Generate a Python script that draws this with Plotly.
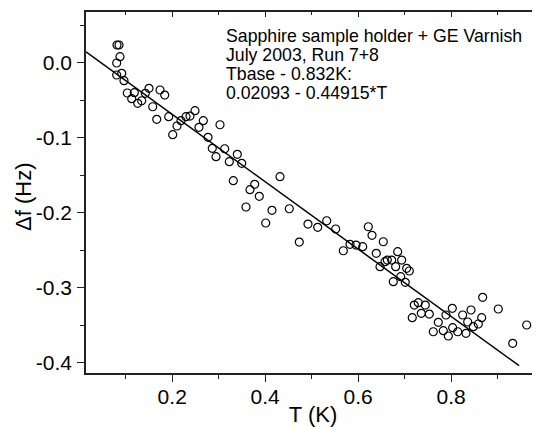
import plotly.graph_objects as go

# ---- data ----
T_K = [0.0813, 0.0856, 0.0877, 0.0806, 0.0806, 0.0914, 0.0963, 0.1034, 0.1185, 0.1129,
       0.1258, 0.1344, 0.1422, 0.1501, 0.1738, 0.1839, 0.1581, 0.1667, 0.1925, 0.2011,
       0.2103, 0.2189, 0.2297, 0.2383, 0.2490, 0.2576, 0.2669, 0.2770, 0.3028, 0.2862,
       0.2942, 0.3129, 0.3400, 0.3228, 0.3495, 0.3314, 0.3774, 0.3673, 0.3873, 0.4318,
       0.3587, 0.4146, 0.4518, 0.4011, 0.4733, 0.4920, 0.5129, 0.5323, 0.5516, 0.5680,
       0.5824, 0.5953, 0.6097, 0.6217, 0.6297, 0.6540, 0.6389, 0.6469, 0.6576, 0.6626,
       0.6720, 0.6849, 0.6935, 0.6806, 0.7043, 0.7099, 0.6914, 0.6755, 0.7013, 0.7206,
       0.7292, 0.7443, 0.7163, 0.7357, 0.7529, 0.7723, 0.7615, 0.7888, 0.8024, 0.7830,
       0.7938, 0.8032, 0.8140, 0.8247, 0.8318, 0.8355, 0.8426, 0.8475, 0.8583, 0.8656,
       0.8677, 0.9013, 0.9323, 0.9624, 0.9873]
delta_f_Hz = [0.0236, 0.0236, 0.0080, -0.0004, -0.0164, -0.0141, -0.0240, -0.0404, -0.0400, -0.0480,
              -0.0541, -0.0507, -0.0408, -0.0341, -0.0364, -0.0431, -0.0587, -0.0755, -0.0720, -0.0960,
              -0.0844, -0.0773, -0.0720, -0.0711, -0.0640, -0.0861, -0.0773, -0.0995, -0.0827, -0.1141,
              -0.1253, -0.1147, -0.1221, -0.1320, -0.1341, -0.1573, -0.1621, -0.1693, -0.1781, -0.1520,
              -0.1924, -0.1968, -0.1947, -0.2137, -0.2391, -0.2151, -0.2195, -0.2107, -0.2217, -0.2507,
              -0.2421, -0.2431, -0.2453, -0.2187, -0.2301, -0.2387, -0.2541, -0.2720, -0.2653, -0.2631,
              -0.2631, -0.2520, -0.2631, -0.2720, -0.2741, -0.2777, -0.2853, -0.2920, -0.2928, -0.3231,
              -0.3200, -0.3231, -0.3400, -0.3341, -0.3351, -0.3461, -0.3587, -0.3364, -0.3275, -0.3573,
              -0.3644, -0.3533, -0.3587, -0.3364, -0.3608, -0.3457, -0.3297, -0.3520, -0.3484, -0.3400,
              -0.3128, -0.3284, -0.3741, -0.3497, -0.3333]

# linear fit line (end points as drawn)
fit_T = [0.0146, 0.946]
fit_df = [0.0144, -0.4040]

x_tickvals = [0.2, 0.4, 0.6, 0.8]
x_ticktext = ["0.2", "0.4", "0.6", "0.8"]
y_tickvals = [0.0, -0.1, -0.2, -0.3, -0.4]
y_ticktext = ["0.0", "-0.1", "-0.2", "-0.3", "-0.4"]

x_title = "T (K)"
y_title = "Δf (Hz)"
annotation_lines = ["Sapphire sample holder + GE Varnish",
                    "July 2003, Run 7+8",
                    "Tbase - 0.832K:",
                    "0.02093 - 0.44915*T"]

x_range = [0.0146, 0.991]
y_range = [-0.4137, 0.0676]

# ---- layout geometry (page pixels; the page body adds an 8px offset) ----
OFF = 8
W, H = 540 - OFF, 427 - OFF
ML, MR, MT, MB = 86 - OFF, 0, 12 - OFF, H + OFF - 373
plot_h = H - MT - MB
plot_w = W - ML - MR

def py(ypx):
    return 1 - (ypx - OFF - MT) / plot_h

def px(xpx):
    return (xpx - OFF - ML) / plot_w

FONT = "Arial, Liberation Sans, sans-serif"

fig = go.Figure()
fig.add_trace(go.Scatter(x=T_K, y=delta_f_Hz, mode="markers",
                         marker=dict(symbol="circle-open", size=8, color="black",
                                     line=dict(width=1.2, color="black")),
                         showlegend=False))
fig.add_trace(go.Scatter(x=fit_T, y=fit_df, mode="lines",
                         line=dict(color="black", width=1.5), showlegend=False))
# dummy trace for mirrored inward ticks
fig.add_trace(go.Scatter(x=[None], y=[None], xaxis="x2", yaxis="y2", showlegend=False))

axis_common = dict(showgrid=False, zeroline=False, linecolor="#222", linewidth=1.5,
                   tickcolor="#222", tickwidth=1.2, automargin=False)

fig.update_layout(
    width=W, height=H,
    margin=dict(l=ML, r=MR, t=MT, b=MB, pad=0),
    plot_bgcolor="white", paper_bgcolor="white",
    font=dict(family=FONT, color="black"),
    xaxis=dict(range=x_range, tickmode="array", tickvals=x_tickvals, ticktext=x_ticktext,
               ticks="outside", ticklen=7, showline=True,
               minor=dict(dtick=0.1, tick0=0, ticks="outside", ticklen=4,
                          tickcolor="#222", tickwidth=1.2),
               tickfont=dict(size=21, family=FONT), ticklabelstandoff=-3,
               title=dict(text=x_title, font=dict(size=22, family=FONT), standoff=2),
               **axis_common),
    yaxis=dict(range=y_range, tickmode="array", tickvals=y_tickvals, ticktext=y_ticktext,
               ticks="outside", ticklen=7, showline=True,
               minor=dict(dtick=0.05, tick0=0, ticks="outside", ticklen=4,
                          tickcolor="#222", tickwidth=1.2),
               tickfont=dict(size=21, family=FONT), ticklabelstandoff=1,
               **axis_common),
    xaxis2=dict(range=x_range, overlaying="x", side="top", anchor="y",
                tickmode="array", tickvals=x_tickvals, ticks="inside", ticklen=5,
                showticklabels=False, showline=True,
                minor=dict(dtick=0.1, tick0=0, ticks="inside", ticklen=3,
                           tickcolor="#222", tickwidth=1.2),
                **axis_common),
    yaxis2=dict(range=y_range, overlaying="y", side="right", anchor="x",
                tickmode="array", tickvals=y_tickvals, ticks="inside", ticklen=5,
                showticklabels=False, showline=True,
                minor=dict(dtick=0.05, tick0=0, ticks="inside", ticklen=3,
                           tickcolor="#222", tickwidth=1.2),
                **axis_common),
)

# y-axis title placed as rotated text
fig.add_annotation(text=y_title, xref="paper", yref="paper", x=px(23), y=py(197),
                   xanchor="center", yanchor="middle", textangle=-90, showarrow=False,
                   font=dict(size=22, family=FONT, color="black"))

line_y_px = [36.2, 54.8, 73.5, 93.0]
for txt, ypx in zip(annotation_lines, line_y_px):
    fig.add_annotation(text=txt, xref="paper", yref="paper", x=px(224), y=py(ypx),
                       xanchor="left", yanchor="middle", showarrow=False,
                       font=dict(size=17.7, family=FONT, color="black"))

fig.write_html("out.html")
